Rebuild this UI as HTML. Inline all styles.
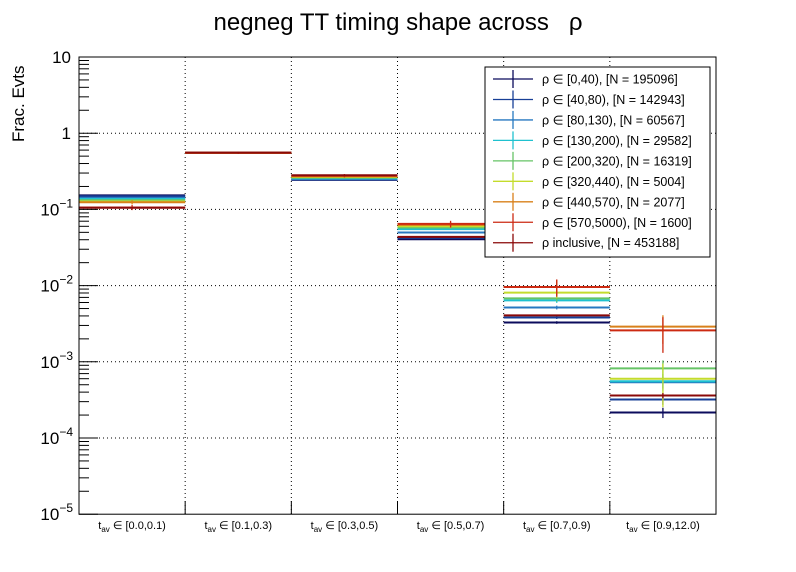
<!DOCTYPE html>
<html><head><meta charset="utf-8"><style>
body{margin:0;background:#fff;}
svg{display:block;font-family:"Liberation Sans",sans-serif;}
</style></head><body>
<svg id="chart" width="796" height="572">
<rect width="796" height="572" fill="#fff"/>
<text x="398" y="30" font-size="24" text-anchor="middle">negneg TT timing shape across &#160;&#160;ρ</text>
<text transform="translate(24,142) rotate(-90)" font-size="17" text-anchor="start">Frac. Evts</text>
<g id="grid"></g><g id="marks"></g><g id="axes"></g><g id="legend"></g>
</svg>
<script>
const categories=["[0.0,0.1)","[0.1,0.3)","[0.3,0.5)","[0.5,0.7)","[0.7,0.9)","[0.9,12.0)"];
const seriesNames=["ρ ∈ [0,40), [N = 195096]","ρ ∈ [40,80), [N = 142943]","ρ ∈ [80,130), [N = 60567]","ρ ∈ [130,200), [N = 29582]","ρ ∈ [200,320), [N = 16319]","ρ ∈ [320,440), [N = 5004]","ρ ∈ [440,570), [N = 2077]","ρ ∈ [570,5000), [N = 1600]","ρ inclusive, [N = 453188]"];
const seriesN=[195096,142943,60567,29582,16319,5004,2077,1600,453188];
const s0=[0.153,0.556,0.244,0.0406,0.00328,0.000216];
const s1=[0.149,0.556,0.247,0.0423,0.00381,0.00032];
const s2=[0.1416,0.555,0.251,0.0497,0.00516,0.00054];
const s3=[0.137,0.555,0.256,0.0550,0.0064,0.000556];
const s4=[0.132,0.554,0.261,0.0579,0.0068,0.00082];
const s5=[0.127,0.553,0.266,0.0602,0.0081,0.00060];
const s6=[0.124,0.552,0.271,0.0626,0.0096,0.0029];
const s7=[0.106,0.553,0.278,0.0645,0.0096,0.00258];
const s8=[0.105,0.557,0.281,0.0436,0.00406,0.000361];
const seriesValues=[s0,s1,s2,s3,s4,s5,s6,s7,s8];
const colors=["#0b0b5c","#173f96","#2778c0","#1fc1cf","#66c466","#c4dc2c","#d8801a","#cc2a12","#8a0808"];
const yTickExp=[1,0,-1,-2,-3,-4,-5];

const NS="http://www.w3.org/2000/svg";
const X0=79,X1=716,YT=57,DEC=76.2,YB=57+6*DEC;
const bw=(X1-X0)/categories.length;
function xs(i){return X0+i*bw;}
function ys(v){return YT+(1-Math.log10(v))*DEC;}
function mk(tag,attrs,parent){const e=document.createElementNS(NS,tag);for(const k in attrs)e.setAttribute(k,attrs[k]);parent.appendChild(e);return e;}
const grid=document.getElementById('grid'),marks=document.getElementById('marks'),axes=document.getElementById('axes'),legend=document.getElementById('legend');

for(let i=1;i<categories.length;i++){
  const l=mk('line',{x1:xs(i),x2:xs(i),y1:YT,y2:YB,stroke:'#000','stroke-width':1,'stroke-dasharray':'1,3'},grid);
  
  
}
yTickExp.forEach(e=>{
  if(e===1||e===-5)return;
  const y=ys(Math.pow(10,e));
  const l=mk('line',{x1:X0,x2:X1,y1:y,y2:y,stroke:'#000','stroke-width':1,'stroke-dasharray':'1,3'},grid);
  
  
});

seriesValues.forEach((vals,s)=>{
  const g=mk('g',{},marks);
  
  
  vals.forEach((v,i)=>{
    const y=ys(v),xc=xs(i)+bw/2;
    const h=mk('line',{x1:xs(i),x2:xs(i+1),y1:y,y2:y,stroke:colors[s],'stroke-width':2},g);
    
    
    const rel=1/Math.sqrt(seriesN[s]*v);
    const hi=ys(v*(1+rel)),lo=ys(Math.max(v*(1-rel),1e-6));
    const e=mk('line',{x1:xc,x2:xc,y1:hi,y2:Math.min(lo,YB),stroke:colors[s],'stroke-width':1.3},g);
    
    
  });
});

const fr=mk('rect',{x:X0,y:YT,width:X1-X0,height:YB-YT,fill:'none',stroke:'#000','stroke-width':1},axes);


yTickExp.forEach(e=>{
  const y=ys(Math.pow(10,e));
  const t=mk('line',{x1:X0,x2:X0+19,y1:y,y2:y,stroke:'#000'},axes);
  
  
  if(e>-5){for(let m=2;m<=9;m++){
    const ym=ys(m*Math.pow(10,e-1));
    const mt=mk('line',{x1:X0,x2:X0+10,y1:ym,y2:ym,stroke:'#000'},axes);
    
    
  }}
  const lab=mk('text',{x:71,y:y+6,'font-size':17,'text-anchor':'end'},axes);
  
  
  if(e===1)lab.textContent='10';
  else if(e===0)lab.textContent='1';
  else{
    lab.textContent='10';
    const sup=mk('tspan',{dy:-8,'font-size':12},lab);
    sup.textContent='\u2212'+(-e);
    lab.setAttribute('x',73);
  }
});
for(let i=1;i<categories.length;i++){
  const t=mk('line',{x1:xs(i),x2:xs(i),y1:YB,y2:YB-13,stroke:'#000'},axes);
  
  
}
categories.forEach((c,i)=>{
  const tx=mk('text',{x:xs(i)+bw/2,y:529,'font-size':11,'text-anchor':'middle'},axes);
  
  
  const a=mk('tspan',{},tx);a.textContent='t';
  const b=mk('tspan',{dy:3,'font-size':8},tx);b.textContent='av';
  const d=mk('tspan',{dy:-3},tx);d.textContent=' ∈ '+c;
});

const LX=485,LY=67,LW=225,LH=190;
const lb=mk('rect',{x:LX,y:LY,width:LW,height:LH,fill:'#fff',stroke:'#000','stroke-width':1},legend);


seriesNames.forEach((n,s)=>{
  const cy=LY+12+s*(LH-14)/8.6;
  const g=mk('g',{},legend);
  
  
  mk('line',{x1:LX+8,x2:LX+48,y1:cy,y2:cy,stroke:colors[s],'stroke-width':1.3},g);
  mk('line',{x1:LX+28,x2:LX+28,y1:cy-9,y2:cy+9,stroke:colors[s],'stroke-width':1.3},g);
  const t=mk('text',{x:LX+57,y:cy+4.5,'font-size':12.5},g);
  t.textContent=n;
});
</script>
</body></html>
